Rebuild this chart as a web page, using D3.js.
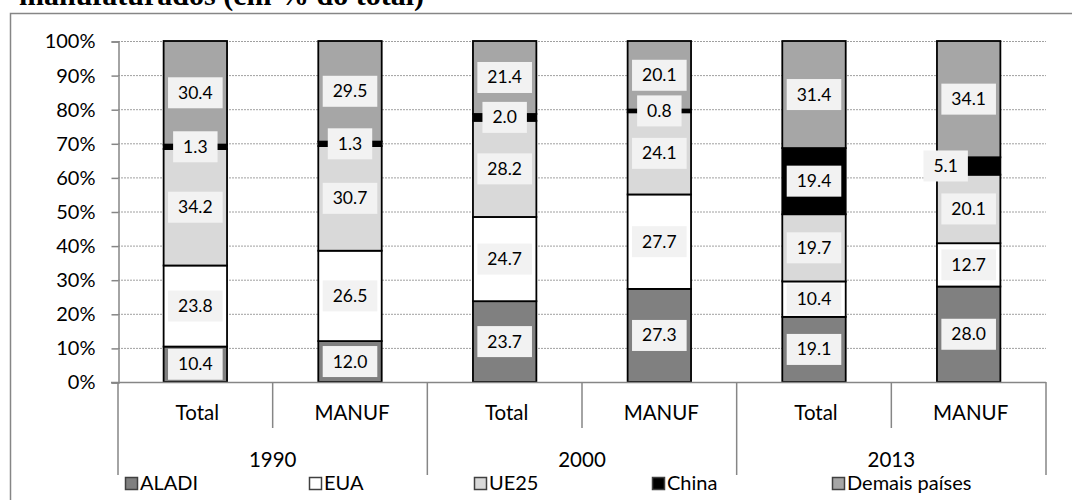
<!DOCTYPE html>
<html><head><meta charset="utf-8">
<script src="https://cdn.jsdelivr.net/npm/d3@7"></script>
<style>
html,body{margin:0;padding:0;background:#fff;}
svg{display:block;}
text{font-family:Lato,"Open Sans",sans-serif;fill:#000;}
</style></head>
<body>
<svg id="chart" width="1072" height="500"></svg>
<script>
const years = ["1990", "2000", "2013"];
const subCats = ["Total", "MANUF"];
const seriesNames = ["ALADI", "EUA", "UE25", "China", "Demais países"];
const aladi  = [10.4, 12.0, 23.7, 27.3, 19.1, 28.0];
const eua    = [23.8, 26.5, 24.7, 27.7, 10.4, 12.7];
const ue25   = [34.2, 30.7, 28.2, 24.1, 19.7, 20.1];
const china  = [1.3, 1.3, 2.0, 0.8, 19.4, 5.1];
const demais = [30.4, 29.5, 21.4, 20.1, 31.4, 34.1];
const yTicks = [0, 0.1, 0.2, 0.3, 0.4, 0.5, 0.6, 0.7, 0.8, 0.9, 1.0];
const title = "manufaturados (em % do total)";

const colors = ["#808080", "#ffffff", "#d9d9d9", "#000000", "#a6a6a6"];
const seriesValues = [aladi, eua, ue25, china, demais];

const cats = [];
years.forEach(yr => subCats.forEach(s => cats.push(yr + "|" + s)));
const rows = cats.map((c, i) => {
  const r = {cat: c};
  seriesNames.forEach((n, j) => r[n] = seriesValues[j][i]);
  return r;
});

const svg = d3.select("#chart");
const pLeft = 118, pRight = 1046, pTop = 41, pBottom = 382;

// outer frame
svg.append("path").attr("d", `M10.5,510 V13.5 H1080`).attr("fill", "none")
  .attr("stroke", "#868686").attr("stroke-width", 1.5);

// title (partially cut at top of the picture)
svg.append("text").attr("x", 19).attr("y", 5)
  .style("font-family", "'Liberation Serif','Times New Roman',serif")
  .style("font-weight", "bold").style("font-size", "30px").text(title);

const x = d3.scaleBand().domain(cats).range([pLeft, pRight]).padding(0);
const y = d3.scaleLinear().domain([0, 1]).range([pBottom, pTop]);
const barW = x.bandwidth() * 0.41;

// gridlines
svg.append("g").selectAll("line").data(yTicks.slice(1)).join("line")
  .attr("x1", pLeft).attr("x2", pRight)
  .attr("y1", d => y(d) + 0.5).attr("y2", d => y(d) + 0.5)
  .attr("stroke", "#a0a0a0").attr("stroke-width", 1).attr("stroke-dasharray", "2,1");

// y axis
const yAxis = d3.axisLeft(y).tickValues(yTicks).tickFormat(d3.format(".0%")).tickSize(7).tickPadding(16);
const ga = svg.append("g").attr("transform", `translate(${pLeft + 0.5},0.5)`).call(yAxis);
ga.select(".domain").attr("stroke", "#868686").attr("stroke-width", 1.5);
ga.selectAll(".tick line").attr("stroke", "#868686").attr("stroke-width", 1.5);
ga.selectAll("text").style("font-size", "20px").style("font-family", "Lato,sans-serif").attr("fill", "#000");

// stacked bars
const stack = d3.stack().keys(seriesNames).offset(d3.stackOffsetExpand);
const series = stack(rows);

const gBars = svg.append("g");
series.forEach((s, si) => {
  gBars.append("g").selectAll("rect").data(s).join("rect")
    .attr("x", d => x(d.data.cat) + (x.bandwidth() - barW) / 2)
    .attr("width", barW)
    .attr("y", d => y(d[1]))
    .attr("height", d => y(d[0]) - y(d[1]))
    .attr("fill", colors[si])
    .attr("stroke", "#000").attr("stroke-width", 1.8);
});

// data labels
const labelShift = {"2013|MANUF|China": -23};
const gLab = svg.append("g");
series.forEach((s, si) => {
  s.forEach(d => {
    const v = d.data[s.key];
    const key = d.data.cat + "|" + s.key;
    const cx = x(d.data.cat) + x.bandwidth() / 2 + (labelShift[key] || 0);
    const cy = (y(d[0]) + y(d[1])) / 2;
    const g = gLab.append("g");
    const t = g.append("text").attr("x", cx).attr("y", cy + 6)
      .attr("text-anchor", "middle").style("font-size", "17.5px").text(v.toFixed(1));
    const bb = t.node().getBBox();
    g.insert("rect", "text").attr("x", cx - bb.width / 2 - 10).attr("width", bb.width + 20)
      .attr("y", cy - 15.5).attr("height", 31).attr("fill", "#f2f2f2");
  });
});

// x axis line
svg.append("line").attr("x1", pLeft - 7).attr("x2", pRight).attr("y1", pBottom + 0.5).attr("y2", pBottom + 0.5)
  .attr("stroke", "#868686").attr("stroke-width", 1.5);

// category dividers
const gx = svg.append("g");
cats.forEach((c, i) => {
  const xx = x(c);
  const isYear = i % 2 === 0;
  gx.append("line").attr("x1", xx).attr("x2", xx).attr("y1", pBottom).attr("y2", isYear ? 475 : 428)
    .attr("stroke", "#868686").attr("stroke-width", 1.5);
});
gx.append("line").attr("x1", pRight).attr("x2", pRight).attr("y1", pBottom).attr("y2", 475)
  .attr("stroke", "#868686").attr("stroke-width", 1.5);

gx.selectAll("text.sub").data(cats).join("text").attr("class", "sub")
  .attr("x", d => x(d) + x.bandwidth() / 2 + 2).attr("y", 420)
  .attr("text-anchor", "middle").style("font-size", "20.5px").text(d => d.split("|")[1]);

gx.selectAll("text.yr").data(years).join("text").attr("class", "yr")
  .attr("x", d => x(d + "|Total") + x.bandwidth()).attr("y", 467)
  .attr("text-anchor", "middle").style("font-size", "20.5px").text(d => d);

// legend
const legX = [125, 309, 474, 652, 832];
const gl = svg.append("g");
seriesNames.forEach((n, i) => {
  gl.append("rect").attr("x", legX[i] + 0.5).attr("y", 477.5).attr("width", 12).attr("height", 12)
    .attr("fill", colors[i]).attr("stroke", "#404040").attr("stroke-width", 1.5);
  gl.append("text").attr("x", legX[i] + 15).attr("y", 490).style("font-size", "20px").text(n);
});
</script>
</body></html>
